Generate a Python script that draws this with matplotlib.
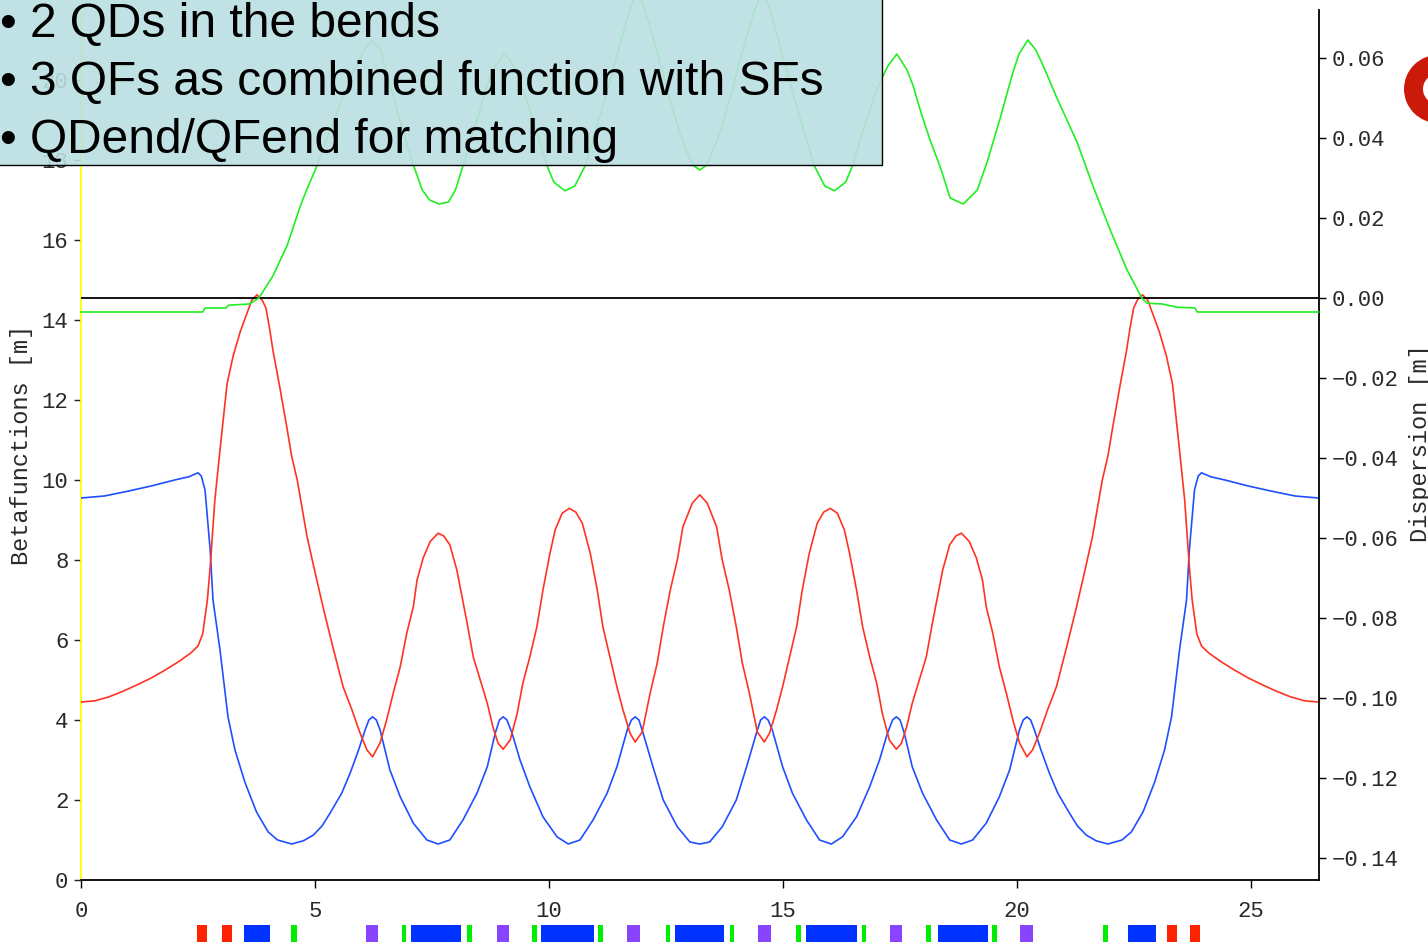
import matplotlib.pyplot as plt
from matplotlib.patches import Rectangle, Wedge

# ---- beta_x (red) ----
sx = [0.0, 0.3, 0.6, 0.9, 1.2, 1.5, 1.8, 2.1, 2.35, 2.5, 2.6, 2.7, 2.76, 2.86, 2.97,
      3.12, 3.25, 3.4, 3.54, 3.65, 3.76, 3.87, 3.95, 4.02, 4.1, 4.25, 4.4, 4.5, 4.62,
      4.83, 4.96, 5.17, 5.38, 5.6, 5.79, 5.96, 6.11, 6.23, 6.39, 6.53, 6.67, 6.82,
      6.96, 7.1, 7.18, 7.31, 7.46, 7.63, 7.75, 7.88, 8.03, 8.14, 8.25, 8.38, 8.53,
      8.68, 8.8, 8.91, 9.02, 9.17, 9.32, 9.44, 9.59, 9.74, 9.87, 10.02, 10.13, 10.28,
      10.43, 10.57, 10.71, 10.88, 11.03, 11.15, 11.3, 11.45, 11.58, 11.73, 11.84,
      11.99, 12.16, 12.31, 12.44, 12.59, 12.74, 12.86, 13.06, 13.22,
      13.38, 13.58, 13.7, 13.85, 14.0, 14.13, 14.28, 14.45, 14.6, 14.71, 14.86,
      14.99, 15.14, 15.29, 15.41, 15.56, 15.73, 15.87, 16.01, 16.16, 16.31, 16.42,
      16.57, 16.7, 16.85, 17.0, 17.12, 17.27, 17.42, 17.53, 17.64, 17.76, 17.91,
      18.06, 18.19, 18.3, 18.41, 18.56, 18.69, 18.81, 18.98, 19.13, 19.26, 19.34,
      19.48, 19.62, 19.77, 19.91, 20.05, 20.21, 20.33, 20.48, 20.65, 20.84, 21.06,
      21.27, 21.48, 21.61, 21.82, 21.94, 22.04, 22.19, 22.34, 22.42, 22.49, 22.57,
      22.68, 22.79, 22.9, 23.04, 23.19, 23.32, 23.47, 23.58, 23.68, 23.74, 23.84,
      23.94, 24.09, 24.34, 24.64, 24.94, 25.24, 25.54, 25.84, 26.14, 26.44]
beta_x = [4.45, 4.48, 4.58, 4.72, 4.88, 5.05, 5.25, 5.47, 5.68, 5.85, 6.15, 7.0, 7.83,
          9.5, 10.75, 12.4, 13.1, 13.7, 14.15, 14.5, 14.63, 14.5, 14.3, 13.85, 13.25,
          12.3, 11.3, 10.6, 10.0, 8.58, 7.9, 6.83, 5.83, 4.83, 4.25, 3.68, 3.25, 3.08,
          3.43, 4.0, 4.67, 5.33, 6.17, 6.83, 7.5, 8.05, 8.46, 8.67, 8.6, 8.38, 7.75,
          7.08, 6.42, 5.58, 5.0, 4.42, 3.83, 3.42, 3.27, 3.5, 4.17, 4.92, 5.58, 6.33,
          7.25, 8.17, 8.75, 9.17, 9.29, 9.2, 8.92, 8.17, 7.25, 6.33, 5.58, 4.83, 4.25,
          3.67, 3.45, 3.7, 4.67, 5.42, 6.33, 7.25, 8.0, 8.83, 9.42, 9.63,
          9.42, 8.83, 8.0, 7.25, 6.33, 5.42, 4.67, 3.7, 3.45, 3.67, 4.25, 4.83, 5.58,
          6.33, 7.25, 8.17, 8.92, 9.2, 9.29, 9.17, 8.75, 8.17, 7.25, 6.33, 5.58, 4.92,
          4.17, 3.5, 3.27, 3.42, 3.83, 4.42, 5.0, 5.58, 6.42, 7.08, 7.75, 8.38, 8.6,
          8.67, 8.46, 8.05, 7.5, 6.83, 6.17, 5.33, 4.67, 4.0, 3.43, 3.08, 3.25, 3.68,
          4.25, 4.83, 5.83, 6.83, 7.9, 8.58, 10.0, 10.6, 11.3, 12.3, 13.25, 13.85,
          14.3, 14.5, 14.63, 14.5, 14.15, 13.7, 13.1, 12.4, 10.75, 9.5, 7.83, 7.0,
          6.15, 5.85, 5.68, 5.47, 5.25, 5.05, 4.88, 4.72, 4.58, 4.48, 4.45]

# ---- beta_y (blue) ----
sy = [0.0, 0.5, 1.0, 1.5, 2.0, 2.3, 2.5, 2.57, 2.65, 2.76, 2.82, 2.97, 3.14, 3.29,
      3.5, 3.75, 4.0, 4.2, 4.5, 4.75, 4.96, 5.15, 5.32, 5.57, 5.75, 5.93, 6.07, 6.15,
      6.23, 6.31, 6.39, 6.6, 6.82, 7.1, 7.39, 7.63, 7.88, 8.16, 8.46, 8.68, 8.85,
      8.94, 9.02, 9.1, 9.21, 9.38, 9.59, 9.87, 10.17, 10.41, 10.66, 10.94, 11.24,
      11.45, 11.67, 11.76, 11.84, 11.92, 12.01, 12.22, 12.44, 12.74, 13.01, 13.22,
      13.43, 13.7, 14.0, 14.22, 14.43, 14.52, 14.6, 14.68, 14.77, 14.99, 15.2, 15.5,
      15.78, 16.03, 16.27, 16.57, 16.85, 17.06, 17.23, 17.34, 17.42, 17.5, 17.59,
      17.76, 17.98, 18.28, 18.56, 18.81, 19.05, 19.34, 19.62, 19.84, 20.05, 20.13,
      20.21, 20.29, 20.37, 20.51, 20.69, 20.87, 21.12, 21.29, 21.48, 21.69, 21.94,
      22.24, 22.44, 22.69, 22.94, 23.15, 23.3, 23.47, 23.62, 23.68, 23.79, 23.87,
      23.94, 24.14, 24.44, 24.94, 25.44, 25.94, 26.44]
beta_y = [9.55, 9.6, 9.72, 9.85, 10.0, 10.08, 10.18, 10.1, 9.75, 8.25, 7.0, 5.75, 4.08,
          3.25, 2.45, 1.7, 1.2, 1.0, 0.9, 0.98, 1.12, 1.35, 1.67, 2.17, 2.67, 3.25,
          3.75, 4.0, 4.08, 4.0, 3.75, 2.75, 2.08, 1.42, 1.0, 0.9, 1.0, 1.5, 2.17, 2.83,
          3.67, 4.0, 4.08, 4.0, 3.67, 3.0, 2.33, 1.58, 1.08, 0.9, 1.0, 1.5, 2.17, 2.83,
          3.75, 4.0, 4.08, 4.0, 3.67, 2.83, 2.0, 1.33, 0.95, 0.9,
          0.95, 1.33, 2.0, 2.83, 3.67, 4.0, 4.08, 4.0, 3.75, 2.83, 2.17, 1.5, 1.0, 0.9,
          1.08, 1.58, 2.33, 3.0, 3.67, 4.0, 4.08, 4.0, 3.67, 2.83, 2.17, 1.5, 1.0, 0.9,
          1.0, 1.42, 2.08, 2.75, 3.75, 4.0, 4.08, 4.0, 3.75, 3.25, 2.67, 2.17, 1.67,
          1.35, 1.12, 0.98, 0.9, 1.0, 1.2, 1.7, 2.45, 3.25, 4.08, 5.75, 7.0, 8.25, 9.75,
          10.1, 10.18, 10.08, 10.0, 9.85, 9.72, 9.6, 9.55]

# ---- dispersion (green, right axis) ----
sd = [0.0, 2.6, 2.65, 3.1, 3.15, 3.6, 3.8, 4.1, 4.4, 4.68, 4.82, 5.04, 5.16, 5.59,
      5.88, 6.05, 6.22, 6.4, 6.54, 6.8, 7.08, 7.29, 7.45, 7.65, 7.85, 8.0, 8.16, 8.3,
      8.5, 8.7, 8.85, 9.04, 9.2, 9.45, 9.7, 9.96, 10.1, 10.34, 10.55, 10.77, 11.0,
      11.3, 11.55, 11.75, 11.88, 12.05, 12.3, 12.55, 12.8, 13.0, 13.1, 13.22,
      13.34, 13.44, 13.64, 13.89, 14.14, 14.39, 14.56, 14.69, 14.89, 15.14, 15.44,
      15.67, 15.89, 16.1, 16.34, 16.48, 16.74, 16.99, 17.24, 17.43, 17.65, 17.78,
      17.93, 18.14, 18.35, 18.57, 18.85, 19.15, 19.36, 19.64, 19.9, 20.04, 20.23,
      20.4, 20.56, 20.85, 21.28, 21.62, 21.99, 22.35, 22.63, 22.66, 22.78, 23.1,
      23.42, 23.8, 23.85, 26.44]
disp = [-0.0035, -0.0035, -0.0025, -0.0025, -0.0018, -0.0015, 0.0, 0.0055, 0.013,
        0.0228, 0.027, 0.033, 0.037, 0.05, 0.058, 0.062, 0.0645, 0.062, 0.056, 0.045,
        0.034, 0.027, 0.0245, 0.0235, 0.024, 0.027, 0.033, 0.039, 0.046, 0.054, 0.058,
        0.061, 0.059, 0.052, 0.043, 0.033, 0.029, 0.0268, 0.028, 0.033, 0.042, 0.054,
        0.065, 0.073, 0.077, 0.072, 0.062, 0.051, 0.041, 0.035, 0.033, 0.032,
        0.033, 0.035, 0.041, 0.051, 0.062, 0.072, 0.077, 0.073, 0.065, 0.054, 0.042,
        0.033, 0.028, 0.0268, 0.029, 0.033, 0.043, 0.052, 0.058, 0.061, 0.057, 0.053,
        0.047, 0.0395, 0.033, 0.025, 0.0235, 0.027, 0.034, 0.045, 0.056, 0.061, 0.0645,
        0.062, 0.058, 0.05, 0.039, 0.028, 0.017, 0.007, 0.0008, 0.0, -0.0013, -0.0015,
        -0.0023, -0.0025, -0.0035, -0.0035]

# ---- lattice elements below the axis ----
elem_start = [2.48, 3.01, 3.48, 4.49, 6.09, 6.86, 7.05, 8.25, 8.89, 9.64, 9.83, 11.05,
              11.67, 12.5, 12.69, 13.87, 14.47, 15.28, 15.49, 16.69, 17.29, 18.06,
              18.31, 19.47, 20.06, 21.84, 22.37, 23.21, 23.7]
elem_end = [2.69, 3.23, 4.04, 4.62, 6.35, 6.94, 8.12, 8.35, 9.15, 9.74, 10.96, 11.15,
            11.94, 12.59, 13.74, 13.95, 14.74, 15.38, 16.58, 16.77, 17.54, 18.16,
            19.38, 19.57, 20.34, 21.94, 22.97, 23.42, 23.91]
elem_kind = ["q", "q", "b", "s", "d", "s", "b", "s", "d", "s", "b", "s", "d", "s", "b",
             "s", "d", "s", "b", "s", "d", "s", "b", "s", "d", "s", "b", "q", "q"]
elem_colors = {"q": "#ff2200", "b": "#0033ff", "s": "#00ee00", "d": "#8844ff"}

beta_ticks = [0, 2, 4, 6, 8, 10, 12, 14, 16, 18, 20]
disp_ticks = [-0.14, -0.12, -0.10, -0.08, -0.06, -0.04, -0.02, 0.0, 0.02, 0.04, 0.06]
disp_labels = ["\u22120.14", "\u22120.12", "\u22120.10", "\u22120.08", "\u22120.06",
               "\u22120.04", "\u22120.02", "0.00", "0.02", "0.04", "0.06"]
s_ticks = [0, 5, 10, 15, 20, 25]

bullets = ["\u2022 2 QDs in the bends",
           "\u2022 3 QFs as combined function with SFs",
           "\u2022 QDend/QFend for matching"]

mono = ["Liberation Mono", "DejaVu Sans Mono"]
W, H = 1428, 947

fig = plt.figure(figsize=(W / 100, H / 100), dpi=100)
ax = fig.add_axes([81 / W, 1 - 880 / H, (1319 - 81) / W, (880 - 10) / H])
ax2 = ax.twinx()

ax.plot(sy, beta_y, color="#1f4fff", lw=1.2, zorder=3)
ax.plot(sx, beta_x, color="#ff3322", lw=1.2, zorder=4)
ax2.axhline(0.0, color="black", lw=1.3, zorder=2)
ax2.plot(sd, disp, color="#22ee22", lw=1.2, zorder=3, clip_on=False)

ax.set_xlim(0, 26.45)
ax.set_ylim(0, 21.75)
ax2.set_ylim(-0.1455, 0.072)

for sp in ["top", "right"]:
    ax.spines[sp].set_visible(False)
for sp in ["top", "left", "bottom"]:
    ax2.spines[sp].set_visible(False)
ax.spines["left"].set_color("#ffff00")
ax.spines["left"].set_linewidth(1.3)
ax.spines["bottom"].set_linewidth(1.3)
ax2.spines["right"].set_linewidth(1.3)

ax.set_xticks(s_ticks)
ax.set_xticklabels([str(t) for t in s_ticks])
ax.set_yticks(beta_ticks)
ax.set_yticklabels([str(t) for t in beta_ticks])
ax2.set_yticks(disp_ticks)
ax2.set_yticklabels(disp_labels)

ax.tick_params(axis="x", direction="out", length=6, width=1, pad=9,
               labelsize=16, labelcolor="#2a2a2a")
ax.tick_params(axis="y", direction="out", length=5, width=1, pad=4,
               labelsize=16, labelcolor="#2a2a2a", color="#222222")
ax2.tick_params(axis="y", direction="out", length=5, width=1, pad=4,
                labelsize=16, labelcolor="#2a2a2a")
for lab in ax.get_xticklabels() + ax.get_yticklabels() + ax2.get_yticklabels():
    lab.set_family(mono)

# element markers under the axis
for s0, s1, k in zip(elem_start, elem_end, elem_kind):
    ax.add_patch(Rectangle((s0, -0.0713), s1 - s0, 0.0196,
                           transform=ax.get_xaxis_transform(), clip_on=False,
                           facecolor=elem_colors[k], edgecolor="none"))

fig.text(22 / W, 1 - 445 / H, "Betafunctions [m]", rotation=90, ha="center",
         va="center", family=mono, size=17, color="#2a2a2a")
fig.text(1421 / W, 1 - 443 / H, "Dispersion [m]", rotation=90, ha="center",
         va="center", family=mono, size=17, color="#2a2a2a")

# slide overlay: text box and logo fragment
fig.add_artist(Rectangle((-0.01, 1 - 165 / H), 882 / W + 0.01, 0.3,
                         transform=fig.transFigure,
                         facecolor=(0.733, 0.875, 0.882, 0.9),
                         edgecolor="black", lw=1.0, zorder=5))
for i, line in enumerate(bullets):
    fig.text(0 / W, 1 - (37 + 58 * i) / H, line, ha="left", va="baseline",
             family="Liberation Sans", size=34.5, color="black", zorder=6)

fig.add_artist(Wedge((14.38, (H - 89) / 100), 0.34, 0, 360, width=0.19,
                     transform=fig.dpi_scale_trans, facecolor="#cc1a0a",
                     edgecolor="none", zorder=5))

fig.savefig("out.png", dpi=100)
